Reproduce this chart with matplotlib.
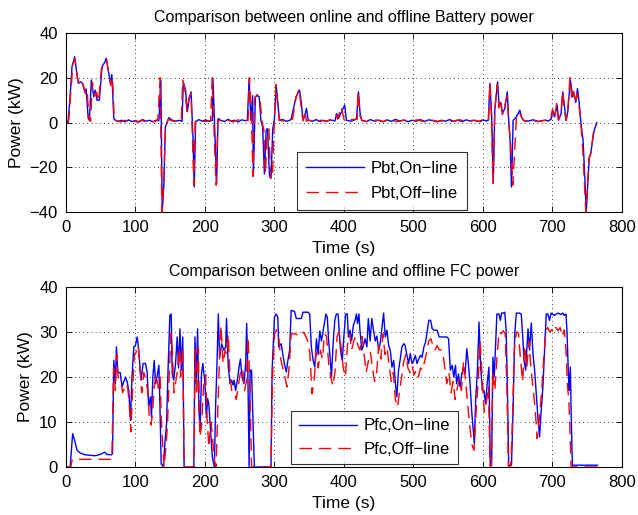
import numpy as np
import matplotlib
matplotlib.use("Agg")
import matplotlib.pyplot as plt

plt.rcParams['font.family'] = ['Liberation Sans', 'DejaVu Sans']

# battery power, on-line (time s, power kW)
bt_on_t = [0, 3, 6, 8.7, 12.5, 16, 18, 20.7, 24, 27, 29, 32, 33.7, 36.5, 40, 42, 44.7, 48, 52, 55.8,
           58, 61.5, 64, 66, 68.8, 71, 75, 80, 85, 90, 95, 100, 105, 110, 115, 120, 125, 130, 133.7, 136.5,
           138.5, 141, 143, 148, 153, 158, 163, 167, 168.8, 172, 174.5, 177, 180, 182.7, 184.6, 186.5, 191, 196, 201, 206,
           210.6, 211.5, 214, 216.8, 218.8, 222.6, 228, 233, 238, 243, 248, 253, 258, 261, 263.5, 266, 268.6, 269.6, 272.5, 276,
           278, 280.5, 283, 285.5, 288, 290, 292.8, 295, 297.5, 300, 302.4, 305, 307, 312, 317, 322, 324, 331, 336, 338.6,
           341, 343.5, 346, 348.5, 355, 360, 365, 370, 375, 380, 387, 389.5, 392, 401, 403.5, 410, 418, 420.8, 423.2, 425.6,
           432, 438, 444, 450, 456, 462, 468, 474, 480, 486, 492, 498, 504, 510, 516, 522, 528, 534, 540, 546,
           552, 558, 564, 570, 576, 582, 588, 594, 600, 605, 607.6, 610, 612.4, 614.8, 617, 621, 623.4, 625.7, 628, 631.4,
           635, 637, 639, 641, 643.4, 648, 653, 655.5, 658, 665, 672, 680, 688, 694, 698, 700.5, 703, 706.7, 708.6, 712.4,
           714.8, 717.2, 719.5, 722, 725.7, 729, 731, 733.5, 736, 738.6, 741, 744, 746.7, 748.6, 750.5, 753, 755, 760, 763.8]
bt_on_p = [0, 0, 12, 25, 29.4, 21, 17.5, 18.2, 17.5, 13.7, 15, 1.8, 1, 19, 11.5, 14.5, 10, 10, 25, 27,
           28.7, 22, 17.5, 21.5, 1.8, 1, 0.5, 1, 0.3, 1.2, 0.4, 0.9, 0.2, 1.3, 0.6, 1, 0.3, 1.1, 0.8, 19,
           -40, -27, -2, 2.2, 1, 0.6, 1, 0.5, 18, 14.5, 4.8, 10, 13.7, -6.4, -28.8, 0.3, 1.3, 0.6, 1.2, 0.5,
           1, 19.7, -2, -27.3, 1.8, 1, 0.4, 1.4, 0.7, 1, 0.3, 1.2, 0.8, 1, 19.7, 1, 12, -24, 11.5, 12,
           11.5, 1, -2, -23, -3.4, -2.7, -24, -25, -3, 1.8, 16.7, 8.5, 1, 1.3, 0.5, 1, 1.5, 11.5, 14.5, 9,
           1, 3, 6.3, 1, 0.6, 1.3, 0.4, 1, 0.5, 1.2, 0.7, 4, 1.8, 7.8, 1, 0.6, 1.5, 13.7, 4, 1,
           0.4, 1.3, 0.6, 1.1, 0.3, 1.2, 0.5, 1.4, 0.7, 1.1, 0.4, 1, 0.6, 1.3, 0.5, 1.2, 0.8, 0.3, 1, 0.6,
           1.3, 0.5, 1.1, 0.4, 1.2, 0.6, 1, 0.5, 1.2, 0.7, 1, 17.5, 4, -27.3, 5.5, 18.2, 7, 9, 4, 6.3,
           13.7, 1, -8, -28.8, 1, 2.5, 5.5, 2.5, 1, 0.6, 1.2, 0.5, 1, 0.7, 1.5, 5.5, 2.5, 7.8, 1, 4,
           13.7, 7, 1, 4.8, 19, 11.5, 13, 9, 15.2, 8.5, -0.5, -8, -25.8, -40, -28.8, -15.4, -13.9, -3.4, 0]

# battery power, off-line
bt_off_t = [0, 4, 7, 10, 13, 16.5, 19, 22, 25, 28, 30.5, 33, 35.5, 38, 41, 44, 47, 51, 55, 58.5,
            62, 64.5, 67, 69.5, 72, 78, 84, 90, 96, 102, 108, 114, 120, 126, 132, 135.5, 138, 140.5, 143, 147,
            152, 160, 166, 168, 171, 174, 177, 180, 182, 184, 186, 192, 200, 208, 210.5, 213, 216, 218.5, 224, 232,
            240, 248, 256, 262, 264, 267, 269, 271.5, 275, 279, 282, 284.5, 287, 289.5, 292, 294.5, 297, 299.5, 302, 304.5,
            307, 314, 322, 326, 331, 335.5, 338, 341, 344, 346, 349, 358, 366, 374, 382, 388.5, 391, 396, 400.5, 403,
            410, 419, 420.5, 423, 426, 436, 446, 456, 466, 476, 486, 496, 506, 516, 526, 536, 546, 556, 566, 576,
            586, 596, 604, 608, 610, 612, 614.5, 617, 620.5, 623, 625.5, 628, 631, 634.5, 637, 640, 643, 648, 652.5, 656,
            660, 670, 680, 690, 697, 700, 703, 706, 708.5, 712, 714.5, 717, 719.5, 722, 725, 728, 730.5, 733, 735.5, 738,
            741, 743.5, 746, 748, 750, 752.5, 755, 759, 763]
bt_off_p = [0, 1, 14, 26, 28.5, 20, 17, 18.5, 16.5, 13, 14.5, 1.5, 0.5, 18, 12, 13.5, 9.5, 24, 26, 28,
            21, 16.5, 20, 1.2, 0.8, 0.3, 1, 0.4, 1.1, 0.2, 0.9, 0.5, 1.2, 0.3, 1, 20, -40, -28, -3, 1.5,
            0.8, 0.4, 1.1, 19, 15, 5, 11, 13, -8, -28, 0.5, 1, 0.4, 0.9, 20, -3, -28, 1.2, 0.6, 1.1,
            0.3, 1.2, 0.6, 1, 20, 1.5, -24, 11, 12.5, 11, 0.5, -3, -23, -4, -3, -25, -25, -2, 17, 8,
            1, 0.6, 1.2, 1.5, 11, 15, 8, 0.8, 5, 0.6, 1.1, 0.4, 1, 0.6, 1.3, 3.5, 1.5, 7, 0.8, 0.4,
            1.2, 1.5, 14, 3, 0.8, 0.3, 1.1, 0.5, 1.2, 0.4, 1, 0.6, 1.2, 0.3, 1.1, 0.5, 1, 0.4, 1.2, 0.6,
            1, 0.4, 0.8, 1, 18, 3, -27, 6, 17, 6.5, 10, 3.5, 7, 12, 0.5, -10, -28, 1.5, 4.5, 2,
            0.5, 1, 0.4, 1.1, 1.3, 6, 2, 8.5, 1.5, 3.5, 14, 6, 1, 5, 20, 10, 14, 8.5, 13, 8,
            -1, -12, -28, -40, -30, -16, -14, -4, -0.5]

# fuel cell power, on-line
fc_on_t = [0, 6, 9.6, 12.5, 16, 20.7, 28, 42, 49.5, 55.8, 59, 65.4, 67, 68.8, 71, 72.6, 74.5, 78, 80.8, 83,
           85.6, 88, 90.4, 92.8, 95, 97.6, 100, 102.4, 104, 105.8, 108, 111, 114.4, 116.8, 119, 121.6, 123, 125, 127, 129,
           131, 133.7, 135, 137, 140, 142.3, 144.7, 147, 149.5, 151.4, 152.9, 155, 157.7, 160, 162, 164, 166, 168, 170, 184,
           185.6, 187.5, 189.4, 191.3, 193, 195, 197, 200, 202, 203.8, 205.5, 208, 210.6, 213.5, 215.4, 217.3, 219.2, 221, 224, 227,
           229.8, 231, 233.6, 236, 238.5, 240.4, 242, 244, 246.6, 249, 251, 253.4, 256, 258.6, 260, 261.6, 263.5, 265, 267, 271,
           295, 296.6, 300, 302.4, 304.8, 306, 309.7, 312, 314.5, 317, 319.3, 321.8, 324, 328.8, 331.4, 338.6, 341, 348.3, 350.7, 353,
           355.6, 358, 360.4, 362.8, 365.2, 367.6, 374, 376, 378, 380, 382, 384.5, 386.8, 389, 391.5, 393, 395, 397.5, 400, 402.4,
           404.8, 406.3, 408.7, 411, 413.5, 416, 418, 419.5, 421.5, 423, 425.6, 428, 430.4, 433, 435, 437.6, 440, 442.5, 445, 447.4,
           450, 452, 457, 459.4, 461.8, 464.3, 466.7, 469, 471.5, 474, 476, 478.5, 481, 483.3, 486, 488, 490.6, 493, 495.4, 498,
           500.4, 502.7, 505, 507.5, 510, 512.4, 515, 517.4, 520, 522, 524.6, 527, 529.5, 534, 537, 539, 548, 550.5, 553, 555.7,
           558, 560.5, 562, 564.8, 567, 569.5, 572, 574.3, 576.7, 579, 581.4, 584, 586, 587.6, 589.5, 592, 594.3, 596.7, 599, 601.4,
           603.8, 606, 608.6, 610.5, 612.4, 614.3, 616.2, 618, 620, 623, 625, 626.7, 629, 631.4, 633.3, 635.2, 637, 641, 643.3, 645.7,
           648, 652.4, 655, 657, 659, 661.4, 664.8, 667, 669.5, 672, 674.3, 676.7, 679, 681.4, 683.8, 686.2, 688.6, 691, 693.3, 695.7,
           698, 702.8, 707.6, 712.4, 715, 717, 719.5, 721, 723, 724, 725.7, 727, 728.6, 764.8]
fc_on_p = [0, 0, 7.4, 5.9, 3.7, 3.1, 2.7, 2.5, 2.8, 3.3, 2.8, 2.7, 3, 23.7, 18.5, 26.7, 21, 21, 17.8, 18.9,
           20, 19, 17, 10.4, 20, 26.7, 27, 28.9, 27, 23.7, 19.3, 23, 23, 21.1, 13.3, 15.6, 11.1, 20, 23.7, 18.5,
           20, 22.6, 15, 0.7, 0.1, 5.2, 9.6, 22.2, 33.7, 34, 20.7, 19.3, 23, 28.9, 22, 30.7, 21.5, 28.9, 0, 0,
           28.9, 18.5, 30.7, 12.6, 8.5, 20.7, 23, 18.5, 11.1, 15.2, 14, 8.1, 2.2, 0, 14.1, 23, 34, 24.4, 27.4, 26,
           26.7, 33, 22.2, 18.5, 19.3, 18.2, 19.3, 17, 19.3, 22.2, 24, 20, 18.5, 23, 31.9, 22.2, 0, 21.5, 21.5, 0,
           0, 21.5, 33.3, 34, 33.3, 26.7, 27.4, 25, 22.8, 21.1, 23.7, 26, 34.8, 34.6, 33, 33, 34.4, 34.4, 34, 26.7,
           23.7, 22.2, 28.5, 25, 30.2, 28, 34, 33.3, 27.8, 24.4, 20, 27.8, 32.6, 34, 34, 30.4, 25.9, 23.7, 29.3, 34,
           34, 28.9, 30.4, 28.1, 31.5, 32.6, 34, 31.9, 34, 30.4, 26, 27, 28.5, 26.7, 33, 28, 33, 30.4, 28, 29.1,
           25.9, 27.4, 34.2, 28.9, 30.4, 27, 25.9, 22.2, 23.7, 18.5, 15.6, 21.5, 24, 26.7, 27.4, 27, 24.8, 23, 25.2, 23,
           23.7, 24.8, 23, 24, 24.8, 24.4, 26.7, 27.8, 30.4, 32.6, 32.6, 30.7, 30.4, 30.4, 28.9, 28.9, 28.9, 28.5, 21.5, 22.6,
           20, 22.6, 18.5, 20.7, 17.8, 20.7, 22.2, 20.7, 26.3, 23, 18.5, 11.9, 8.1, 5.2, 15, 21.5, 32.2, 22.2, 17, 17,
           14.1, 18.5, 22.2, 0.4, 0.4, 24.4, 20, 26.7, 34, 34, 32.6, 34.2, 34.2, 34.4, 30.4, 17, 0.4, 0.4, 12.6, 29.6,
           34.2, 34.2, 34, 29.6, 23.7, 21.5, 30.7, 26, 32, 25, 21.5, 16.3, 11.1, 6.7, 12.6, 17.8, 26, 34, 34, 32.6,
           34.2, 33.7, 34.2, 33.9, 34.2, 33.7, 34, 29.6, 20, 17, 22.2, 11.1, 0.4, 0.4]

# fuel cell power, off-line
fc_off_t = [0, 7, 9, 12, 66, 68.5, 71, 73, 75, 79, 81.5, 84, 86.5, 89, 91.5, 93.5, 96, 98.5, 101, 104,
            106.5, 109, 112, 115, 117.5, 120, 122.5, 124.5, 127, 130, 133, 135.5, 137, 141, 143.5, 146, 148.5, 151, 153, 155.5,
            158, 160.5, 163, 165, 168, 170, 184, 186, 188, 190.5, 192.5, 195, 198, 201, 203, 205.5, 208.5, 211, 213.5, 216,
            218.5, 220.5, 223, 226, 229, 231, 233.5, 236, 239, 242, 245, 248, 251, 254, 257, 259.5, 262, 264.5, 267, 271,
            295, 297, 300, 303, 306, 309, 312, 315, 318, 321, 324, 330, 336, 342, 348, 351, 354, 357, 360, 363,
            366, 369, 372, 375, 378, 381, 384, 387, 390, 393, 396, 399, 402, 405, 408, 411, 414, 417, 420, 423,
            426, 429, 432, 435, 438, 441, 444, 447, 450, 453, 456, 459, 462, 465, 468, 471, 474, 477, 480, 483,
            486, 489, 492, 495, 498, 501, 504, 507, 510, 513, 516, 519, 522, 525, 528, 531, 534, 537, 540, 543,
            548, 551, 554, 557, 560, 563, 566, 569, 572, 575, 578, 581, 584, 587, 590, 593, 596, 599, 602, 605,
            608, 610, 612, 614, 617, 620, 623, 626, 629, 632, 634.5, 636.5, 640, 642.5, 645, 648, 651, 654, 657, 660,
            663, 666, 669, 672, 675, 678, 681, 684, 687, 690, 693, 696, 699, 702, 705, 708, 711, 714, 717, 719.5,
            721.5, 723.5, 725, 726.7, 728, 764.8]
fc_off_p = [0, 0, 1.7, 1.7, 1.7, 22, 17, 25, 20, 19, 16.5, 17.5, 18.5, 17.5, 13, 7.8, 18, 25, 25.5, 27,
            22, 16.5, 21, 19.5, 17, 11, 9.3, 12, 18, 20.5, 17.5, 20, 11, 0, 4, 9, 20, 29.6, 26, 16.5,
            19, 21.5, 26.5, 20, 26.5, 0, 0, 26, 16, 26.5, 6.7, 9, 18, 20.5, 11, 4.4, 10, 6.5, 1.5, 0,
            13, 22, 31.5, 23, 26, 25, 29.5, 20, 16.5, 16.5, 15, 18, 21, 22, 17, 19, 28.9, 19, 0, 0,
            0, 19, 29.6, 30.5, 29, 24, 22, 20, 17.8, 22, 29.6, 29.6, 29, 30, 28, 25, 16.3, 19, 25.5, 22,
            26, 24, 29.6, 29, 23, 20, 18, 21, 29, 30, 26.5, 22, 20, 27, 29.6, 26, 28, 29, 27, 26,
            29, 25, 21, 23.5, 25.5, 22, 19, 21, 27, 24, 29.6, 25, 26.5, 22.5, 19, 21, 15, 13.3, 17, 20,
            23.5, 25, 22, 21, 22.5, 20.5, 21.5, 20, 22, 21.5, 23.5, 25.5, 28, 28.5, 27, 26, 27, 26, 26, 24.5,
            18.5, 21, 16.5, 19, 15, 17.5, 19.5, 17, 23.5, 19, 14, 9, 5, 3.7, 12, 19, 28, 19, 12.2, 14.5,
            18, 0.2, 0.2, 21, 17, 24, 30, 29.6, 30.3, 29.6, 17, 0.2, 0.2, 11, 26, 30, 29.8, 24, 19, 27,
            22, 28, 22, 17.5, 13, 6.3, 10.5, 16, 23, 30, 31, 30, 30.5, 29.8, 31, 30.3, 31, 29, 30.5, 26,
            18, 15, 9, 0.2, 0, 0]

fig = plt.figure(figsize=(6.38, 5.15), dpi=100)
ax1 = fig.add_axes([0.1034, 0.5883, 0.8715, 0.3476])
ax2 = fig.add_axes([0.1034, 0.0932, 0.8715, 0.3495])

dash = (0, (9, 5))
ax1.plot(bt_on_t, bt_on_p, color='blue', lw=1.0, label='Pbt,On\u2212line')
ax1.plot(bt_off_t, bt_off_p, color='red', lw=1.0, ls=dash, label='Pbt,Off\u2212line')
ax2.plot(fc_on_t, fc_on_p, color='blue', lw=1.0, label='Pfc,On\u2212line')
ax2.plot(fc_off_t, fc_off_p, color='red', lw=1.0, ls=dash, label='Pfc,Off\u2212line')

ax1.set_ylim(-40, 40)
ax1.set_yticks(np.arange(-40, 41, 20))
ax2.set_ylim(0, 40)
ax2.set_yticks(np.arange(0, 41, 10))

titles = ['Comparison between online and offline Battery power',
          'Comparison between online and offline FC power']
for ax, title in zip([ax1, ax2], titles):
    ax.set_xlim(0, 800)
    ax.set_xticks(np.arange(0, 801, 100))
    ax.grid(True, color='black', ls=(0, (1, 4)), lw=0.6)
    ax.tick_params(direction='in', top=True, right=True, labelsize=12, length=4, width=0.6, pad=6)
    for sp in ax.spines.values():
        sp.set_linewidth(0.8)
    ax.set_title(title, fontsize=11.5, pad=8)
    ax.set_xlabel('Time (s)', fontsize=12.5, labelpad=4)
    ax.set_ylabel('Power (kW)', fontsize=12.5, labelpad=4)

leg1 = ax1.legend(loc='lower left', bbox_to_anchor=(0.415, 0.01),
                  fancybox=False, edgecolor='black', fontsize=12, handlelength=3.5,
                  handletextpad=0.4, borderpad=0.55, labelspacing=0.6, borderaxespad=0)
leg2 = ax2.legend(loc='lower left', bbox_to_anchor=(0.405, 0.015),
                  fancybox=False, edgecolor='black', fontsize=12, handlelength=3.5,
                  handletextpad=0.4, borderpad=0.45, labelspacing=0.5, borderaxespad=0)
for leg in [leg1, leg2]:
    leg.get_frame().set_linewidth(0.8)

fig.savefig('out.png', dpi=100)
